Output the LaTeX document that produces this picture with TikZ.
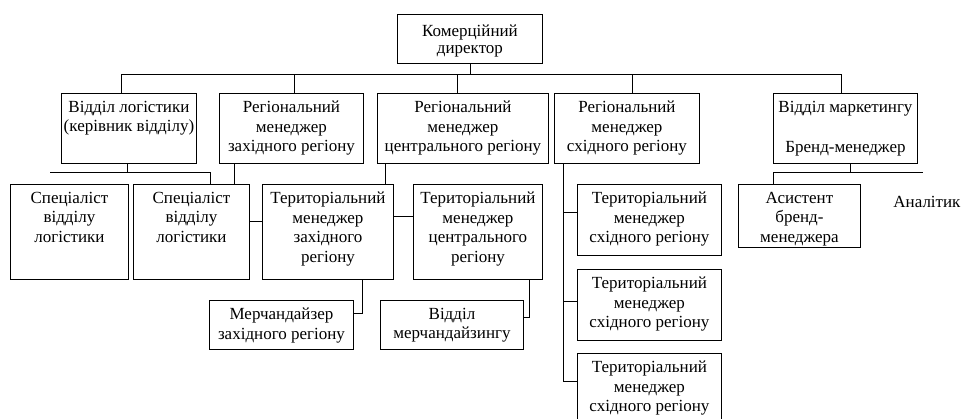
\documentclass[tikz,border=0pt]{standalone}
\usepackage{fontspec}
\setmainfont{Liberation Serif}

\tikzset{
  unit/.style={draw, line width=0.9pt, inner sep=0pt, anchor=north west},
  txt/.style={anchor=north, inner sep=0pt, yshift=-7.5pt, align=center,
    font=\fontsize{17}{19.5}\selectfont},
}

\begin{document}
\begin{tikzpicture}[x=1pt, y=-1pt, line width=0.9pt]
    \useasboundingbox (0,0) rectangle (961,419);

    % Director
    \node[unit, minimum width=145pt, minimum height=49pt,
        label={[txt, yshift=-3pt, font=\fontsize{17}{17}\selectfont]north:{Комерційний\\директор}}]
        (dir) at (397,14) {};

    % Second level
    \node[unit, minimum width=135pt, minimum height=70pt,
        label={[txt]north:{Відділ логістики\\(керівник відділу)}}] (log) at (61,93) {};
    \node[unit, minimum width=144pt, minimum height=70pt,
        label={[txt]north:{Регіональний\\менеджер\\західного регіону}}] (west) at (219,93) {};
    \node[unit, minimum width=171pt, minimum height=70pt,
        label={[txt]north:{Регіональний\\менеджер\\центрального регіону}}] (central) at (377,93) {};
    \node[unit, minimum width=145pt, minimum height=70pt,
        label={[txt]north:{Регіональний\\менеджер\\східного регіону}}] (east) at (554,93) {};
    \node[unit, minimum width=144pt, minimum height=70pt,
        label={[txt]north:{Відділ маркетингу\\[21pt]Бренд-менеджер}}] (mkt) at (773,93) {};

    % Third level
    \node[unit, minimum width=118pt, minimum height=95pt,
        label={[txt]north:{Спеціаліст\\відділу\\логістики}}] (spec1) at (10,184) {};
    \node[unit, minimum width=116pt, minimum height=95pt,
        label={[txt]north:{Спеціаліст\\відділу\\логістики}}] (spec2) at (133,184) {};
    \node[unit, minimum width=131pt, minimum height=95pt,
        label={[txt]north:{Територіальний\\менеджер\\західного\\регіону}}] (terw) at (262,184) {};
    \node[unit, minimum width=129pt, minimum height=95pt,
        label={[txt]north:{Територіальний\\менеджер\\центрального\\регіону}}] (terc) at (413,184) {};
    \node[unit, minimum width=144pt, minimum height=71pt,
        label={[txt]north:{Територіальний\\менеджер\\східного регіону}}] (east1) at (577,184) {};
    \node[unit, minimum width=144pt, minimum height=71pt,
        label={[txt]north:{Територіальний\\менеджер\\східного регіону}}] (east2) at (577,269) {};
    \node[unit, minimum width=144pt, minimum height=71pt,
        label={[txt]north:{Територіальний\\менеджер\\східного регіону}}] (east3) at (577,353) {};
    \node[unit, minimum width=122pt, minimum height=63pt,
        label={[txt]north:{Асистент\\бренд-\\менеджера}}] (asis) at (738,184) {};
    \node[txt, anchor=base west, yshift=0pt] (anl) at (893,200) {Аналітик};

    % Fourth level
    \node[unit, minimum width=144pt, minimum height=49pt,
        label={[txt]north:{Мерчандайзер\\західного регіону}}] (merw) at (209,300) {};
    \node[unit, minimum width=143pt, minimum height=49pt,
        label={[txt]north:{Відділ\\мерчандайзингу}}] (merd) at (380,300) {};

    % Top bus
    \draw ([xshift=-7.5pt]log.north) -- ++(0,-19) coordinate (busL)
        -| ([xshift=-4pt]mkt.north);
    \draw (dir.south) -- (dir.south |- busL);
    \draw ([xshift=3pt]west.north) -- ++(0,-19);
    \draw ([xshift=-5.5pt]central.north) -- ++(0,-19);
    \draw ([xshift=5.5pt]east.north) -- ++(0,-19);

    % Logistics
    \draw ([xshift=-1.5pt]log.south) -- ++(0,9);
    \draw ([xshift=19pt]spec2.north) -- ++(0,-12) -- ++(-160,0);
    \draw ([xshift=-57pt]west.south) -- ([xshift=43pt]spec2.north);
    \draw ([yshift=10.5pt]spec2.east) -- ([yshift=10.5pt]terw.west);

    % Territorial managers
    \draw ([xshift=-77.5pt]central.south) -- ([xshift=57.5pt]terw.north);
    \draw ([yshift=15.5pt]terw.east) -- ([yshift=15.5pt]terc.west);
    \draw ([xshift=34.5pt]terw.south) |- ([yshift=11.5pt]merw.east);
    \draw ([xshift=51.5pt]terc.south) |- ([yshift=7.5pt]merd.east);

    % East region
    \draw ([xshift=-63.5pt]east.south) |- ([yshift=7.5pt]east3.west);
    \draw ([yshift=7.5pt]east1.west) -- ++(-14,0);
    \draw ([yshift=3.5pt]east2.west) -- ++(-14,0);

    % Marketing
    \draw ([xshift=5pt]mkt.south) -- ++(0,9);
    \draw ([xshift=-26pt]asis.north) -- ++(0,-12) -- ++(150,0);
\end{tikzpicture}
\end{document}
